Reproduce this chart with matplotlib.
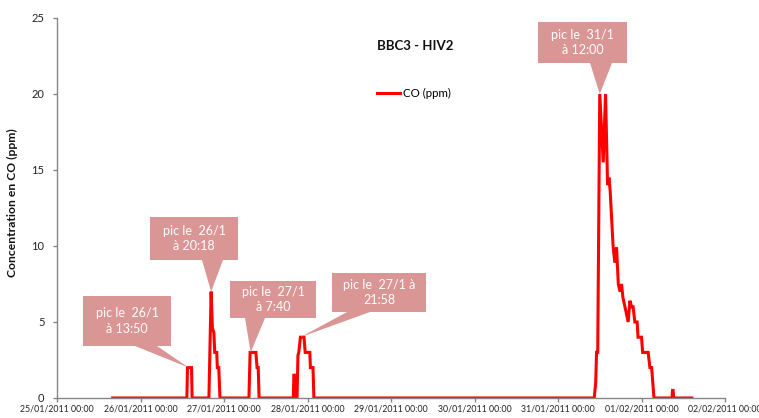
import matplotlib
matplotlib.use('Agg')
import matplotlib.pyplot as plt
import matplotlib.dates as mdates
from matplotlib.patches import Polygon
import pandas as pd

plt.rcParams['font.family'] = ['Lato', 'DejaVu Sans']

# mesures CO (ppm) - BBC3 - HIV2
temps = [
    '25/01/2011 16:00',
    '26/01/2011 13:20', '26/01/2011 13:30', '26/01/2011 14:40', '26/01/2011 14:50',
    '26/01/2011 19:40', '26/01/2011 20:18', '26/01/2011 20:40', '26/01/2011 21:05',
    '26/01/2011 21:20', '26/01/2011 21:55', '26/01/2011 22:05', '26/01/2011 22:30',
    '26/01/2011 22:50',
    '27/01/2011 07:10', '27/01/2011 07:30', '27/01/2011 09:10', '27/01/2011 09:30',
    '27/01/2011 09:50', '27/01/2011 10:05',
    '27/01/2011 19:55', '27/01/2011 20:05', '27/01/2011 20:15', '27/01/2011 20:25',
    '27/01/2011 21:00', '27/01/2011 21:15', '27/01/2011 21:30', '27/01/2011 21:58',
    '27/01/2011 23:00', '27/01/2011 23:20', '28/01/2011 00:40', '28/01/2011 00:50',
    '28/01/2011 01:35', '28/01/2011 01:50',
    '31/01/2011 10:25', '31/01/2011 10:50', '31/01/2011 11:05', '31/01/2011 11:25',
    '31/01/2011 12:00', '31/01/2011 13:00', '31/01/2011 13:40', '31/01/2011 14:15',
    '31/01/2011 14:40', '31/01/2011 15:00', '31/01/2011 15:50', '31/01/2011 16:20',
    '31/01/2011 16:50', '31/01/2011 17:20', '31/01/2011 17:50', '31/01/2011 18:15',
    '31/01/2011 18:40', '31/01/2011 19:15', '31/01/2011 20:10', '31/01/2011 20:40',
    '31/01/2011 21:10', '31/01/2011 21:35', '31/01/2011 22:05', '31/01/2011 22:45',
    '31/01/2011 23:00', '01/02/2011 00:00', '01/02/2011 00:20', '01/02/2011 01:55',
    '01/02/2011 02:25', '01/02/2011 02:55', '01/02/2011 03:35',
    '01/02/2011 08:45', '01/02/2011 08:55', '01/02/2011 09:05', '01/02/2011 09:15',
    '01/02/2011 14:30',
]
co_ppm = [
    0,
    0, 2, 2, 0,
    0, 7, 4.6, 4.3,
    3, 3, 2, 2,
    0,
    0, 3, 3, 2,
    2, 0,
    0, 1.5, 1.5, 0,
    0, 2.8, 3, 4,
    4, 3, 3, 2,
    2, 0,
    0, 1, 3, 3,
    20, 15.5, 20, 14,
    14.5, 13.6, 10, 8.9,
    9.9, 7.5, 7.0, 7.5,
    6.6, 6.0, 5.0, 6.4,
    6.0, 6.0, 5.0, 5.0,
    4.0, 4.0, 3.0, 3.0,
    2.0, 2.0, 0,
    0, 0.5, 0.5, 0,
    0,
]

# bulles : texte, pic visé (date, valeur)
pic_textes = ['pic le  26/1\nà 13:50', 'pic le  26/1\nà 20:18', 'pic le  27/1\nà 7:40',
              'pic le  27/1 à\n21:58', 'pic le  31/1\nà 12:00']
pic_dates = ['26/01/2011 13:50', '26/01/2011 20:18', '27/01/2011 07:40',
             '27/01/2011 21:58', '31/01/2011 12:00']
pic_valeurs = [2, 7, 3, 4, 20]

W, H = 759, 418
# boites en pixels (gauche, haut, droite, bas) + base du triangle
boites = [(83, 296, 171, 346, 135, 157),
          (150, 217, 238, 260, 202, 223),
          (230, 281, 316, 318, 245, 265),
          (332, 273, 426, 312, 347, 370),
          (538, 22, 627, 63, 590, 612)]

t = pd.to_datetime(temps, format='%d/%m/%Y %H:%M')

fig = plt.figure(figsize=(W / 100, H / 100), dpi=100)
ax = fig.add_axes([57 / W, 20 / H, 668 / W, 380 / H])

ax.plot(t, co_ppm, color='#FF0000', lw=2.2, label='CO (ppm)', solid_joinstyle='miter')

ax.set_xlim(pd.Timestamp('2011-01-25'), pd.Timestamp('2011-02-02'))
ax.set_ylim(0, 25)
ax.set_yticks([0, 5, 10, 15, 20, 25])
ax.xaxis.set_major_locator(mdates.DayLocator())
ax.xaxis.set_major_formatter(mdates.DateFormatter('%d/%m/%Y %H:%M'))

for s in ['top', 'right']:
    ax.spines[s].set_visible(False)
for s in ['left', 'bottom']:
    ax.spines[s].set_color('#868686')
    ax.spines[s].set_linewidth(1)
ax.tick_params(axis='x', labelsize=6.3, colors='#868686', labelcolor='#222222',
               length=3, width=1, pad=2)
ax.tick_params(axis='y', labelsize=8, colors='#868686', labelcolor='#222222',
               length=3, width=1, pad=6)

ax.set_ylabel('Concentration en CO (ppm)', fontsize=8.7, fontweight='bold', color='#111111')
ax.yaxis.set_label_coords(-0.058, 0.513)

fig.text(415 / W, 1 - 46 / H, 'BBC3 - HIV2', fontsize=9.5, fontweight='bold',
         ha='center', va='center', color='#111111')
ax.legend(loc='center left', bbox_to_anchor=(377 / W, 1 - 93.5 / H),
          bbox_transform=fig.transFigure, frameon=False, fontsize=8.3,
          borderpad=0, borderaxespad=0, handlelength=2.0, handletextpad=0.25)


def fig_px(x, y):
    return (x / W, 1 - y / H)


to_fig = ax.transData + fig.transFigure.inverted()
for txt, d, v, b in zip(pic_textes, pic_dates, pic_valeurs, boites):
    x0, y0, x1, y1, wa, wb = b
    tip = to_fig.transform((mdates.date2num(pd.to_datetime(d, format='%d/%m/%Y %H:%M')), v))
    pts = [fig_px(x0, y0), fig_px(x1, y0), fig_px(x1, y1), fig_px(wb, y1),
           tuple(tip), fig_px(wa, y1), fig_px(x0, y1)]
    fig.patches.append(Polygon(pts, closed=True, transform=fig.transFigure,
                               facecolor='#D99694', edgecolor='none', zorder=5))
    cx, cy = fig_px((x0 + x1) / 2, (y0 + y1) / 2)
    fig.text(cx, cy, txt, fontsize=9, color='white', ha='center', va='center',
             linespacing=1.35, zorder=6)

plt.savefig('out.png', dpi=100, facecolor='white')
plt.close()
